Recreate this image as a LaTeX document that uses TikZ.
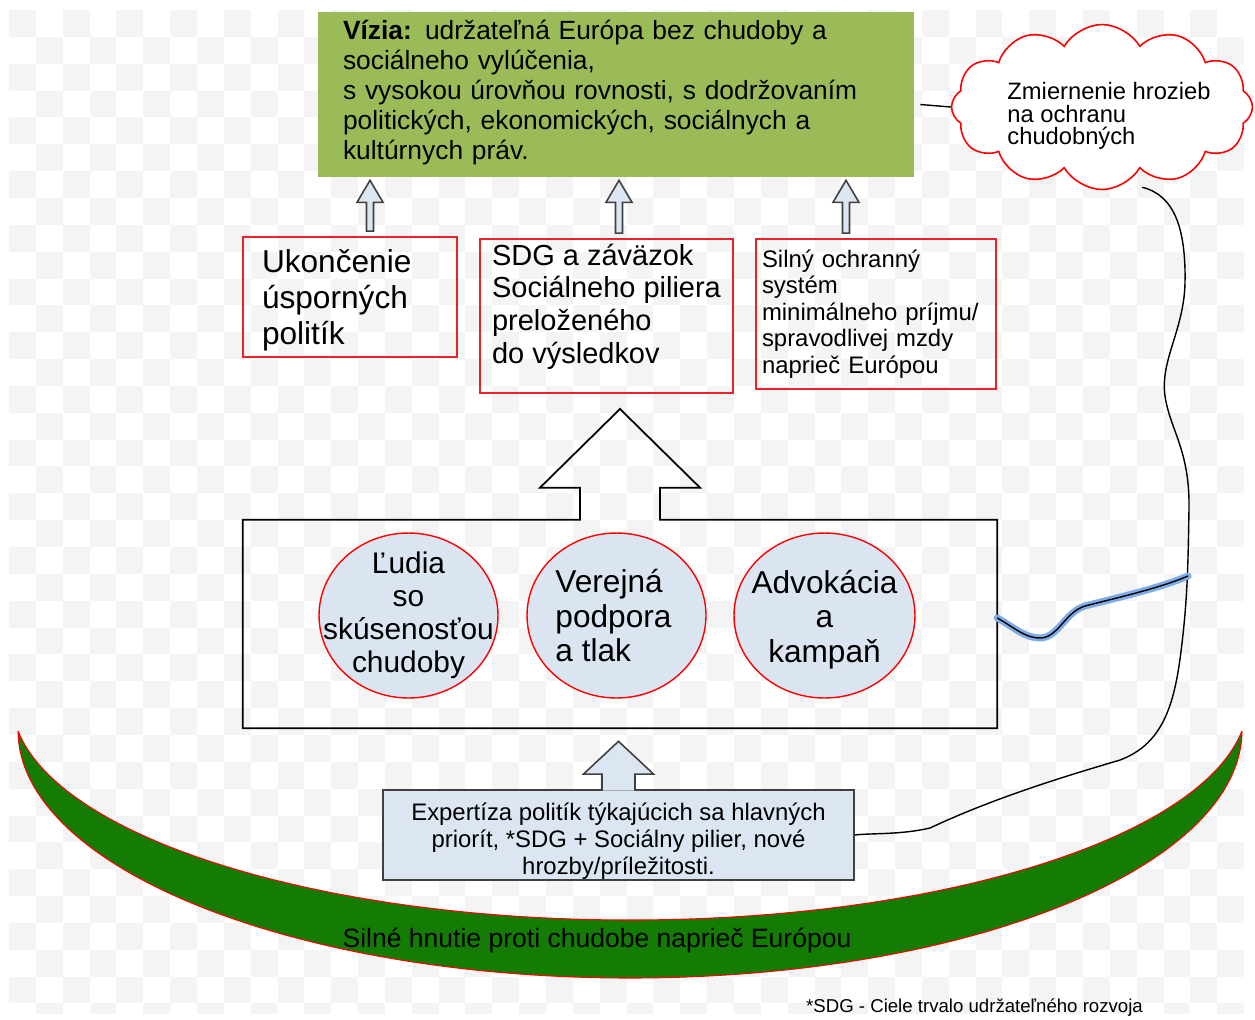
\documentclass[tikz,border=0pt]{standalone}
\usepackage{fontspec}
\setmainfont{Liberation Sans}
\usetikzlibrary{calc,shapes.symbols,shapes.geometric}

\definecolor{visgreen}{RGB}{155,187,89}
\definecolor{paleblue}{RGB}{219,229,241}
\definecolor{boxblue}{RGB}{220,230,242}
\definecolor{movgreen}{RGB}{20,124,4}
\definecolor{boxred}{RGB}{235,35,40}
\definecolor{edgegray}{RGB}{64,64,64}
\definecolor{checker}{RGB}{244,244,244}
\definecolor{glow}{RGB}{125,172,232}

\newcommand\fsz[2]{\fontsize{#1}{#2}\selectfont}

\begin{document}
\begin{tikzpicture}[x=0.02cm,y=-0.02cm,
    every node/.style={inner sep=0pt},
    vision/.style={fill=visgreen, minimum width=11.92cm, minimum height=3.3cm,
      text width=10.92cm, inner xsep=0.5cm, align=left, font=\fsz{15}{17}},
    goal/.style={draw=boxred, line width=1.1pt, align=left},
    bubble/.style={ellipse, draw=red, fill=paleblue, line width=0.8pt, minimum height=3.3cm},
    bubtext/.style={align=center, font=\fsz{18}{19.8}},
    slim/.style={draw=edgegray, fill=boxblue, line width=0.9pt},
    outline/.style={draw=black, line width=1pt},
    link/.style={draw=black, line width=0.8pt},
    wave/.style={link, preaction={draw=glow, line width=4pt, line cap=round}},
    expert/.style={draw=edgegray, fill=boxblue, line width=1.1pt, minimum width=9.42cm,
      minimum height=1.8cm, align=center, font=\fsz{13.6}{15.4}}]
    \useasboundingbox (0,0) rectangle (1255,1019);

    % checkered background
    \begin{scope}
        \clip (9,10) rectangle (1245,1013);
        \foreach \i in {0,...,45}{
            \foreach \j in {0,...,37}{
                \ifodd\numexpr\i+\j\relax\else
                    \fill[checker] ({9+26.85*\i},{10+26.85*\j}) rectangle ++(26.85,26.85);
                \fi}}
    \end{scope}

    % movement crescent
    \begin{scope}
        \clip (0,731) rectangle (1255,1019);
        \path[fill=movgreen, draw=red, line width=0.6pt, even odd rule]
            (630,730) ellipse [x radius=612, y radius=248]
            (630,700) ellipse [x radius=618, y radius=220];
    \end{scope}
    \node[font=\fsz{15.1}{17}, text=black] (movt) at (597,940) {Silné hnutie proti chudobe naprieč Európou};

    \node[vision] (vis) at (616,94.5) {\textbf{Vízia:} udržateľná Európa bez chudoby a\\
        sociálneho vylúčenia,\\
        s vysokou úrovňou rovnosti, s dodržovaním\\
        politických, ekonomických, sociálnych a\\
        kultúrnych práv.\rule[-5.5pt]{0pt}{5.5pt}};

    \node[cloud, cloud puffs=12, cloud puff arc=120, aspect=1.8, draw=red, fill=white,
        line width=0.9pt, minimum width=6.02cm, minimum height=3.3cm] (cloud) at (1102,107) {};
    \node[align=left, font=\fsz{13.5}{13}] (cloudt) at ($(cloud)+(7,9)$) {Zmiernenie hrozieb\\ na ochranu\\ chudobných};

    \node[goal, minimum width=4.28cm, minimum height=2.4cm, text width=3.52cm, inner xsep=0.38cm,
        font=\fsz{18}{20.4}] (ukon) at (350,297) {\rule{0pt}{17pt}Ukončenie\\ úsporných\\ politík};
    \node[goal, minimum width=5.06cm, minimum height=3.08cm,
        font=\fsz{16.5}{18.7}] (sdg) at (606.5,316) {SDG a záväzok\\ Sociálneho piliera\\ preloženého\\ do výsledkov\rule[-14pt]{0pt}{14pt}};
    \node[goal, minimum width=4.8cm, minimum height=3cm, text width=4.56cm, inner xsep=0.12cm,
        font=\fsz{13.6}{15}] (safe) at (876,314) {Silný ochranný\\ systém\\ minimálneho príjmu/\\ spravodlivej mzdy\\ naprieč Európou};

    \foreach \ax/\lo in {370/ukon, 619/sdg, 846/safe}{
        \coordinate (ab) at (\ax,0);
        \draw[slim] ($(ab |- \lo.north)+(-3.5,-5)$) -- ($(ab |- vis.south)+(-3.5,25)$) -- ++(-9.5,0)
            -- ($(ab |- vis.south)+(0,3)$) -- ($(ab |- vis.south)+(13,25)$) -- ++(-9.5,0)
            -- ($(ab |- \lo.north)+(3.5,-5)$) -- cycle;
    }

    % box of the three actors, with its big arrow
    \node[minimum width=15.08cm, minimum height=4.16cm] (movbox) at (620,624) {};
    \draw[outline] ($(movbox.north)+(-40,0)$) -- (movbox.north west) -- (movbox.south west)
        -- (movbox.south east) -- (movbox.north east) -- ($(movbox.north)+(40,0)$) -- ++(0,-32)
        -- ++(40,0) -- ($(movbox.north |- sdg.south)+(0,15)$) -- ($(movbox.north)+(-80,-32)$)
        -- ++(40,0) -- cycle;

    \node[bubble, minimum width=3.58cm] (ppl) at (408.5,615.5) {};
    \node[bubtext, font=\fsz{17}{18.7}] (pplt) at (ppl) {Ľudia\\ so\\ skúsenosťou\\ chudoby};
    \node[bubble, minimum width=3.58cm] (pub) at (616.5,615.5) {};
    \node[bubtext, align=left] (pubt) at ($(pub)+(-3,0)$) {Verejná\\ podpora\\ a tlak};
    \node[bubble, minimum width=3.62cm] (adv) at (824.5,615.5) {};
    \node[bubtext] (advt) at ($(adv)+(0,4)$) {Advokácia\\ a\\ kampaň};

    \node[expert] (exp) at (618.5,835) {\rule{0pt}{17pt}Expertíza politík týkajúcich sa hlavných\\
        priorít, *SDG + Sociálny pilier, nové\\
        hrozby/príležitosti.};
    \path[slim] ($(exp.north)+(-16.5,1.5)$) -- ++(0,-16.5) -- ++(-18.5,0)
        -- ($(exp.north |- movbox.south)+(0,13)$) -- ($(exp.north)+(35,-15)$) -- ++(-18.5,0) -- ++(0,16.5);

    % links to the cloud
    \draw[link] ($(vis.east)+(6,10)$) -- (cloud.west);
    \draw[link] ($(cloud.south)+(40,-3)$) .. controls (1175,195) and (1186,230) .. (1185,283)
        .. controls (1184,330) and (1160,360) .. (1165,396)
        .. controls (1170,430) and (1190,450) .. (1189,509)
        .. controls (1188,560) and (1188,600) .. (1180,659)
        .. controls (1173,710) and (1160,745) .. (1120,760)
        .. controls (1080,772) and (1000,795) .. (930,828)
        .. controls (900,835) and (870,833) .. (exp.east);
    \coordinate (wend) at (1188,576);
    \draw[wave] ($(movbox.east)+(0,-6)$) .. controls (1015,628) and (1025,638) .. (1040,638)
        .. controls (1058,638) and (1065,612) .. (1085,606)
        .. controls (1120,597) and (1160,588) .. (wend);

    \node[font=\fsz{10.6}{12}] (note) at (974.5,1008) {*SDG - Ciele trvalo udržateľného rozvoja};
\end{tikzpicture}
\end{document}
